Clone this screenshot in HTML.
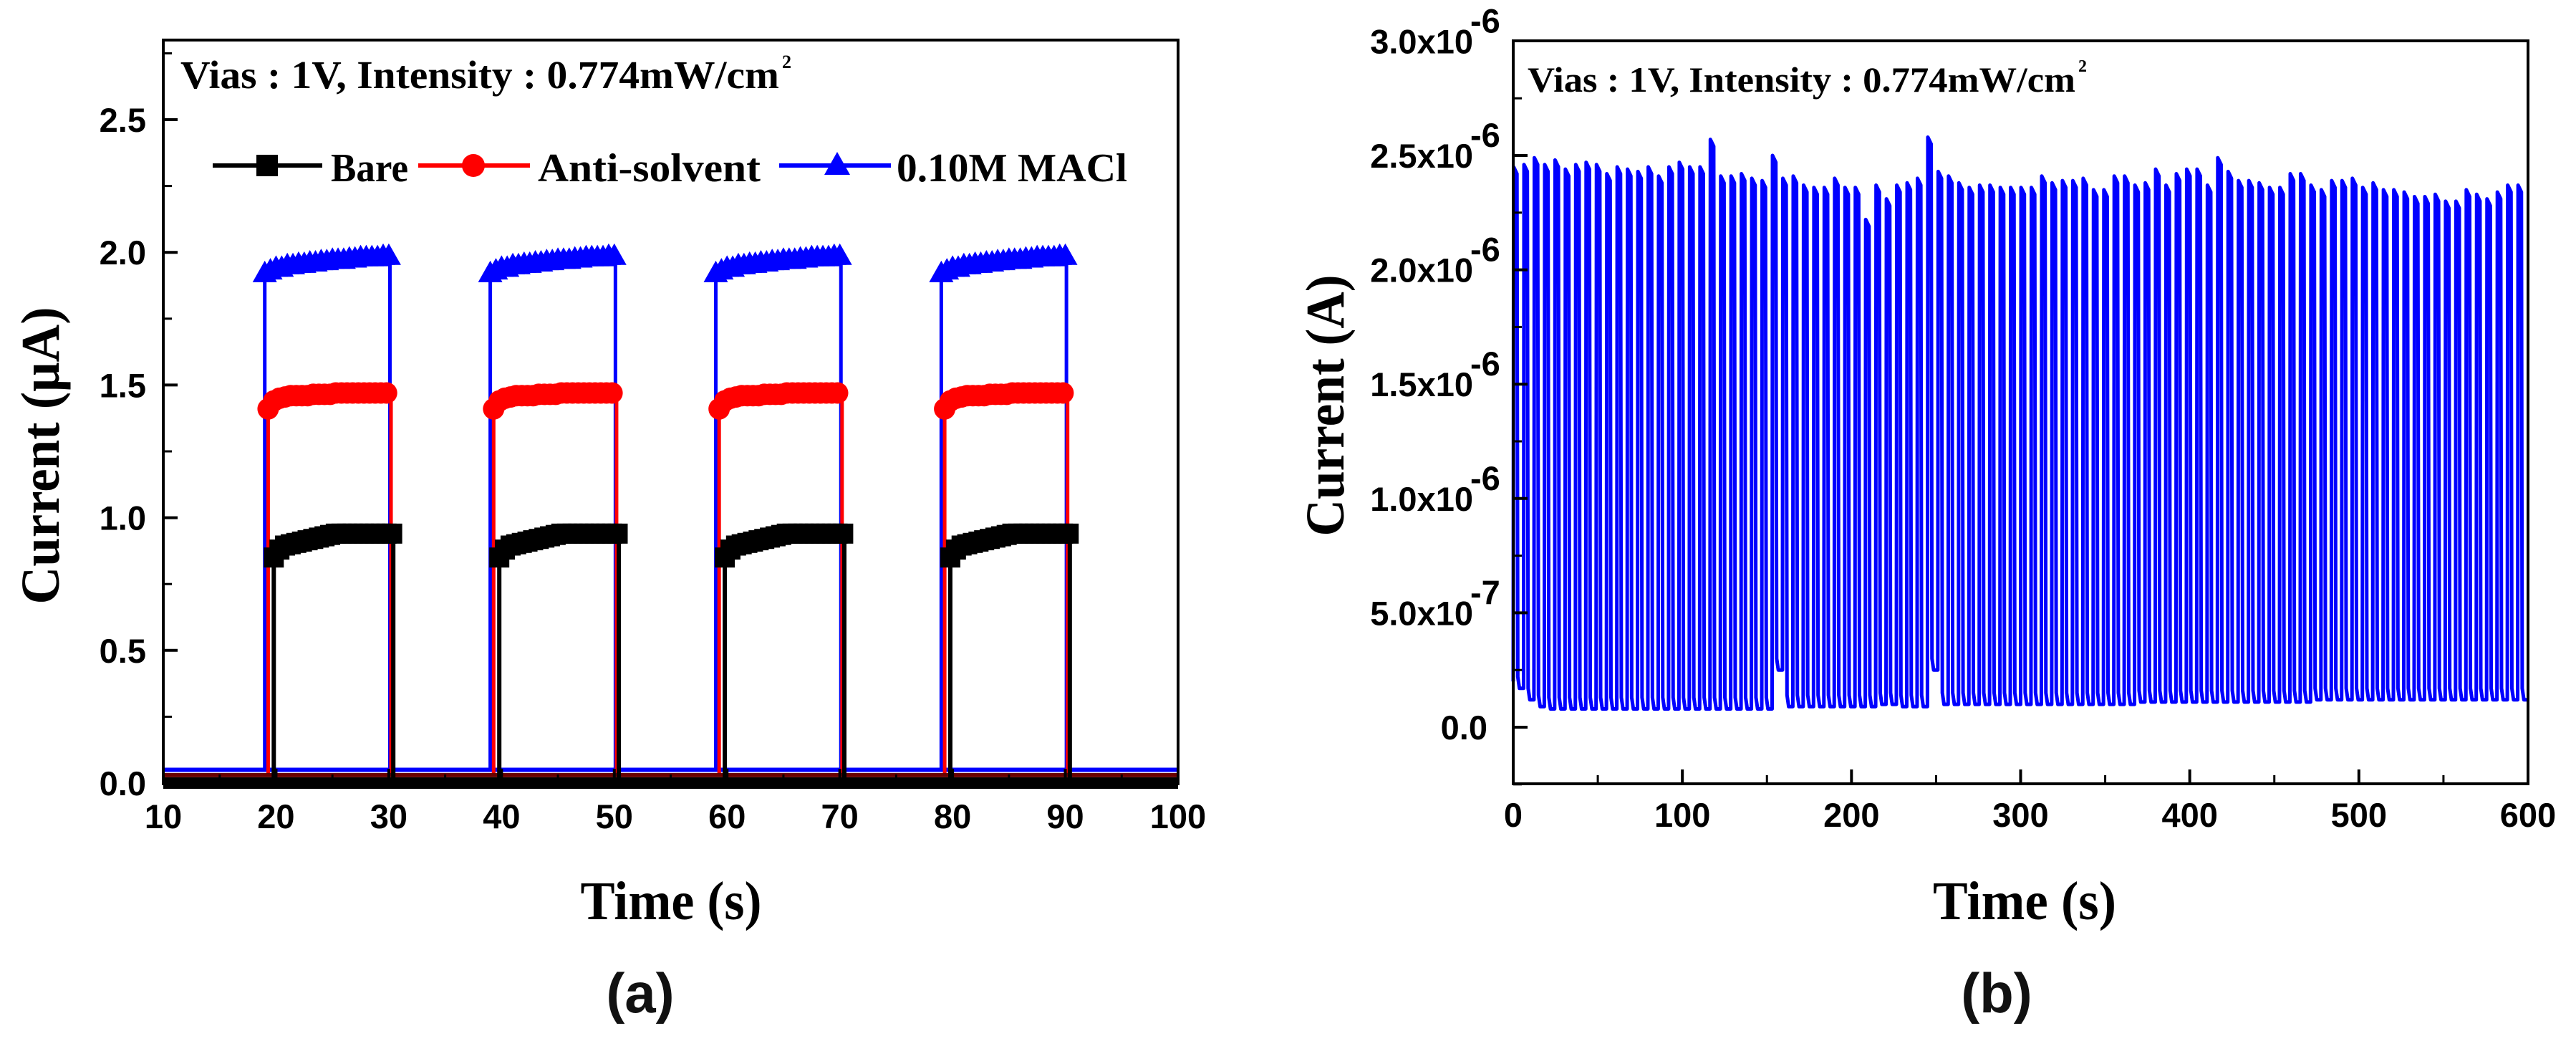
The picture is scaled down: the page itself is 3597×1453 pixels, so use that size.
<!DOCTYPE html>
<html><head><meta charset="utf-8">
<style>
html,body{margin:0;padding:0;background:#fff;}
svg{display:block;}
.tick{font-family:"Liberation Sans",Arial,sans-serif;font-weight:bold;font-size:47px;fill:#000;}
.serif{font-family:"Liberation Serif",serif;font-weight:bold;fill:#000;}
</style></head>
<body>
<svg id="fig" width="3597" height="1453" viewBox="0 0 3597 1453" xmlns="http://www.w3.org/2000/svg">
<g id="chartA"></g>
<g id="chartB"></g>
</svg>
<script>
// ---------- Chart (a) data ----------
const aXTicks = [10,20,30,40,50,60,70,80,90,100];
const aYTicks = [0.0,0.5,1.0,1.5,2.0,2.5];
const aYTickLabels = ["0.0","0.5","1.0","1.5","2.0","2.5"];
const pulseStarts = [20,40,60,80];
const seriesNames = ["Bare","Anti-solvent","0.10M MACl"];
const riseOffsets = [-0.2,-0.7,-1.0];
const fallOffsets = [10.4,10.2,10.1];
const offValues = [0.0,0.03,0.05];
const bareOn = [0.85,0.88,0.895,0.9,0.905,0.91,0.915,0.92,0.925,0.93,0.935,0.94,0.94,0.94,0.94,0.94,0.94,0.94,0.94,0.94,0.94,0.94];
const antiOn = [1.41,1.44,1.45,1.455,1.46,1.46,1.46,1.46,1.465,1.465,1.465,1.465,1.47,1.47,1.47,1.47,1.47,1.47,1.47,1.47,1.47,1.47];
const maclOn = [1.92,1.93,1.94,1.94,1.95,1.95,1.955,1.955,1.96,1.96,1.965,1.965,1.97,1.97,1.97,1.975,1.975,1.98,1.98,1.98,1.98,1.985,1.985];
const onStep = 0.5;

// ---------- Chart (b) data ----------
const bXTicks = [0,100,200,300,400,500,600];
const bYTicks = [0,0.5,1.0,1.5,2.0,2.5,3.0];
const bYMant = ["0.0","5.0","1.0","1.5","2.0","2.5","3.0"];
const bYExp = ["","-7","-6","-6","-6","-6","-6"];
const peaks = [2.45,2.46,2.49,2.46,2.48,2.44,2.46,2.47,2.46,2.42,2.45,2.44,2.43,2.45,2.41,2.45,
2.47,2.45,2.45,2.57,2.41,2.41,2.42,2.40,2.39,2.50,2.40,2.41,2.37,2.36,2.36,2.40,
2.36,2.36,2.22,2.37,2.31,2.37,2.38,2.40,2.58,2.43,2.41,2.38,2.36,2.37,2.37,2.36,
2.36,2.36,2.36,2.41,2.38,2.39,2.39,2.40,2.35,2.35,2.41,2.41,2.37,2.38,2.44,2.37,
2.42,2.44,2.44,2.37,2.49,2.43,2.39,2.39,2.38,2.36,2.36,2.42,2.42,2.37,2.35,2.39,
2.39,2.40,2.36,2.38,2.35,2.35,2.34,2.32,2.32,2.33,2.30,2.30,2.35,2.33,2.31,2.34,2.37,2.37];
const lows = [0.17,0.12,0.09,0.08,0.08,0.08,0.08,0.08,0.08,0.08,0.08,0.08,0.08,0.08,0.08,0.08,
0.08,0.08,0.08,0.08,0.08,0.08,0.08,0.08,0.08,0.25,0.09,0.09,0.09,0.09,0.09,0.09,
0.09,0.09,0.09,0.1,0.1,0.09,0.09,0.09,0.25,0.1,0.1,0.1,0.1,0.1,0.1,0.1,
0.1,0.1,0.1,0.1,0.1,0.1,0.1,0.1,0.1,0.1,0.1,0.1,0.11,0.11,0.11,0.11,
0.11,0.11,0.11,0.11,0.11,0.11,0.11,0.11,0.11,0.11,0.11,0.11,0.11,0.12,0.12,0.12,
0.12,0.12,0.12,0.12,0.12,0.12,0.12,0.12,0.12,0.12,0.12,0.12,0.12,0.12,0.12,0.12,0.12,0.12];

const NS = "http://www.w3.org/2000/svg";
function mk(tag, attrs, parent){ const e=document.createElementNS(NS,tag); for(const k in attrs) e.setAttribute(k,attrs[k]); if(parent) parent.appendChild(e); return e; }

// ===== Chart (a) =====
(function(){
  const g = document.getElementById('chartA');
  const X0=228, X1=1645, Y0=1093, Y25=167;
  const sx = t => X0 + (t-10)*(X1-X0)/90;
  const sy = v => Y0 - v*(Y0-Y25)/2.5;
  const yTop = sy(2.8);
  const colors = ["#000000","#ff0000","#0000ff"];
  const onData = [bareOn, antiOn, maclOn];
  const dataG = mk('g',{},g);
  
  
  [2,1,0].forEach(si=>{
    const c = colors[si];
    const sg = mk('g',{},dataG);
    
    
    let pts = [[sx(10), sy(offValues[si])]];
    pulseStarts.forEach(p=>{
      const r = p+riseOffsets[si], f = p+fallOffsets[si];
      pts.push([sx(r), sy(offValues[si])]);
      onData[si].forEach((v,k)=>{ pts.push([sx(r+k*onStep), sy(v)]); });
      pts.push([sx(f), sy(onData[si][onData[si].length-1])]);
      pts.push([sx(f), sy(offValues[si])]);
    });
    pts.push([sx(100), sy(offValues[si])]);
    const ln = mk('polyline',{points:pts.map(p=>p.join(',')).join(' '),fill:'none',stroke:c,'stroke-width':si===0?6:5,'stroke-linejoin':'miter'},sg);
    
    
    mk('line',{x1:sx(10),x2:sx(100),y1:sy(offValues[si]),y2:sy(offValues[si]),stroke:si===0?'#000':(si===1?'#6a0000':'#0000ff'),'stroke-width':si===0?16:6},sg);
    pulseStarts.forEach(p=>{
      const r = p+riseOffsets[si];
      onData[si].forEach((v,k)=>{
        const cx=sx(r+k*onStep), cy=sy(v);
        let m;
        if(si===0) m=mk('rect',{x:cx-14,y:cy-14,width:28,height:28,fill:c},sg);
        else if(si===1) m=mk('circle',{cx:cx,cy:cy,r:15,fill:c},sg);
        else m=mk('polygon',{points:`${cx},${cy-18} ${cx-17},${cy+12} ${cx+17},${cy+12}`,fill:c},sg);
        
        
      });
    });
  });
  const fr = mk('rect',{x:X0,y:yTop,width:X1-X0,height:Y0-yTop+1,fill:'none',stroke:'#000','stroke-width':4},g);
  
  
  aYTicks.forEach((v,i)=>{
    mk('line',{x1:X0,x2:X0+20,y1:sy(v),y2:sy(v),stroke:'#000','stroke-width':4},g);
    const t=mk('text',{x:X0-24,y:sy(v)+17,'text-anchor':'end',class:'tick'},g);
    t.textContent=aYTickLabels[i];
    
    
  });
  for(let v=0.25; v<2.8; v+=0.5) mk('line',{x1:X0,x2:X0+12,y1:sy(v),y2:sy(v),stroke:'#000','stroke-width':3},g);
  aXTicks.forEach(v=>{
    mk('line',{x1:sx(v),x2:sx(v),y1:Y0,y2:Y0-20,stroke:'#000','stroke-width':4},g);
    const t=mk('text',{x:sx(v),y:Y0+63,'text-anchor':'middle',class:'tick'},g);
    t.textContent=String(v);
    
    
  });
  for(let v=15; v<100; v+=10) mk('line',{x1:sx(v),x2:sx(v),y1:Y0,y2:Y0-12,stroke:'#000','stroke-width':3},g);
  const an = mk('text',{x:252,y:123,class:'serif','font-size':55,textLength:836,lengthAdjust:'spacingAndGlyphs'},g);
  an.textContent='Vias : 1V, Intensity : 0.774mW/cm';
  
  
  const s2=mk('text',{x:1092,y:95,class:'serif','font-size':26},g); s2.textContent='2';
  const lg = mk('g',{},g);
  
  
  const leg=[[297,450,373,462,'Bare',0,108],[584,740,661,751,'Anti-solvent',1,311],[1088,1244,1169,1252,'0.10M MACl',2,322]];
  leg.forEach(L=>{
    const e = mk('g',{},lg);
    
    
    const c = colors[L[5]];
    mk('line',{x1:L[0],x2:L[1],y1:231,y2:231,stroke:c,'stroke-width':6},e);
    if(L[5]===0) mk('rect',{x:L[2]-15,y:216,width:30,height:30,fill:c},e);
    else if(L[5]===1) mk('circle',{cx:L[2],cy:231,r:16,fill:c},e);
    else mk('polygon',{points:`${L[2]},${212} ${L[2]-18},${244} ${L[2]+18},${244}`,fill:c},e);
    const t=mk('text',{x:L[3],y:253,class:'serif','font-size':56,textLength:L[6],lengthAdjust:'spacingAndGlyphs'},e);
    t.textContent=L[4];
  });
  const yt=mk('text',{x:0,y:0,class:'serif','font-size':76,'text-anchor':'middle',textLength:415,lengthAdjust:'spacingAndGlyphs',transform:'translate(82,636) rotate(-90)'},g);
  yt.textContent='Current (μA)';
  
  
  const xt=mk('text',{x:937,y:1283,class:'serif','font-size':76,'text-anchor':'middle',textLength:253,lengthAdjust:'spacingAndGlyphs'},g);
  xt.textContent='Time (s)';
  
  
  const pl=mk('text',{x:894,y:1413,'font-family':'"Liberation Sans",sans-serif','font-weight':'bold','font-size':78,'text-anchor':'middle',fill:'#111'},g);
  pl.textContent='(a)';
  
  
})();

// ===== Chart (b) =====
(function(){
  const g = document.getElementById('chartB');
  const X0=2113, X1=3530, YT=57, YB=1094;
  const sx = t => X0 + t*(X1-X0)/600;
  const sy = v => 1015 - v*(1015-217)/2.5;
  const P = 600/peaks.length;
  let pts=[[sx(0), sy(0.2)]];
  peaks.forEach((pk,i)=>{
    const t0=i*P;
    pts.push([sx(t0), sy(i>0?lows[i-1]:0.2)]);
    pts.push([sx(t0+0.04*P), sy(pk)]);
    pts.push([sx(t0+0.36*P), sy(pk-0.03)]);
    pts.push([sx(t0+0.44*P), sy(lows[i]+0.05)]);
    pts.push([sx(t0+0.6*P), sy(lows[i])]);
    pts.push([sx(Math.min(600,t0+P)), sy(lows[i])]);
  });
  const ln=mk('polyline',{points:pts.map(p=>p.join(',')).join(' '),fill:'none',stroke:'#0000ff','stroke-width':5,'stroke-linejoin':'round'},g);
  
  
  const fr=mk('rect',{x:X0,y:YT,width:X1-X0,height:YB-YT,fill:'none',stroke:'#000','stroke-width':4},g);
  
  
  bYTicks.forEach((v,i)=>{
    if(sy(v)>YT+2) mk('line',{x1:X0,x2:X0+20,y1:sy(v),y2:sy(v),stroke:'#000','stroke-width':4},g);
    const t=mk('text',{x:i===0?X0-36:X0-56,y:sy(v)+17,'text-anchor':'end',class:'tick'},g);
    t.textContent=bYMant[i]+(bYExp[i]?'x10':'');
    
    
    if(bYExp[i]){ const e=mk('text',{x:X0-60,y:sy(v)-12,class:'tick','font-size':28},g); e.textContent=bYExp[i]; }
  });
  for(let v=-0.25; v<3.0; v+=0.5) mk('line',{x1:X0,x2:X0+12,y1:sy(v),y2:sy(v),stroke:'#000','stroke-width':3},g);
  bXTicks.forEach(v=>{
    mk('line',{x1:sx(v),x2:sx(v),y1:YB,y2:YB-20,stroke:'#000','stroke-width':4},g);
    const t=mk('text',{x:sx(v),y:YB+60,'text-anchor':'middle',class:'tick'},g);
    t.textContent=String(v);
    
    
  });
  for(let v=50; v<600; v+=100) mk('line',{x1:sx(v),x2:sx(v),y1:YB,y2:YB-12,stroke:'#000','stroke-width':3},g);
  const an=mk('text',{x:2133,y:128,class:'serif','font-size':50,textLength:765,lengthAdjust:'spacingAndGlyphs'},g);
  an.textContent='Vias : 1V, Intensity : 0.774mW/cm';
  
  
  const s2=mk('text',{x:2902,y:100,class:'serif','font-size':24},g); s2.textContent='2';
  const yt=mk('text',{x:0,y:0,class:'serif','font-size':76,'text-anchor':'middle',textLength:365,lengthAdjust:'spacingAndGlyphs',transform:'translate(1876,566) rotate(-90)'},g);
  yt.textContent='Current (A)';
  
  
  const xt=mk('text',{x:2827,y:1283,class:'serif','font-size':76,'text-anchor':'middle',textLength:256,lengthAdjust:'spacingAndGlyphs'},g);
  xt.textContent='Time (s)';
  
  
  const pl=mk('text',{x:2788,y:1413,'font-family':'"Liberation Sans",sans-serif','font-weight':'bold','font-size':78,'text-anchor':'middle',fill:'#111'},g);
  pl.textContent='(b)';
  
  
})();
</script>
</body></html>
